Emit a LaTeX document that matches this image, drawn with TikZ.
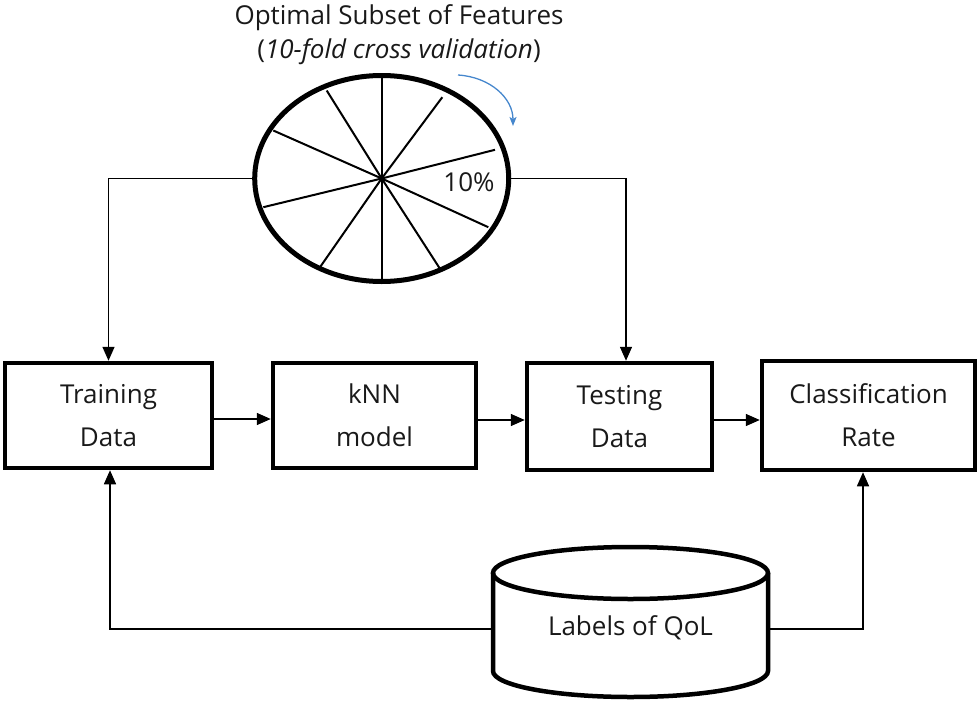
\documentclass[tikz,border=0pt]{standalone}
\usepackage{fontspec}
\setmainfont{Open Sans}
\usetikzlibrary{arrows.meta,shapes.geometric,calc}
\definecolor{arrblue}{RGB}{70,135,205}
\definecolor{txt}{RGB}{25,25,25}
\begin{document}
\begin{tikzpicture}[x=1pt,y=-1pt,
  box/.style={draw,line width=4.5pt,rectangle,minimum height=105pt,inner sep=0pt,align=center,text=txt,font=\fontsize{26}{43}\selectfont},
  conn/.style={line width=1.5pt,-{Triangle[length=14pt,width=12pt]}},
  spoke/.style={line width=2pt},
  lab/.style={font=\fontsize{26}{34}\selectfont,align=center,text=txt}]
\useasboundingbox (0,0) rectangle (980,704);
% title
\node[lab] (title) at (399,35) {Optimal Subset of Features\\(\textit{10-fold cross validation})};
% ellipse with spokes
\coordinate (c) at (381.7,178.5);
\foreach \p in {(0,-101),(-55,-88),(-108.4,-48),(-118.4,28.7),(-61.7,88.7),(0,103),(58.3,90.3),(106.6,48.7),(113.3,-28.7),(60.6,-81.3)}
  \draw[spoke] (c) -- ++\p;
\node[draw,ellipse,line width=5pt,minimum width=254pt,minimum height=206pt,inner sep=0pt] (opt) at (c) {};
\node[font=\fontsize{26}{28}\selectfont,text=txt] (pct) at (469,182) {10\%};
% blue arrow
\draw[arrblue,line width=1.3pt,-{Stealth[length=9pt,width=7pt,inset=2pt]}] (458,75) .. controls (490,77) and (513,98) .. (513,126);
% boxes
\node[box,minimum width=207pt] (train) at (108.5,415.5) {Training\\Data};
\node[box,minimum width=203pt] (knn) at (374.5,415.5) {kNN\\model};
\node[box,minimum width=185pt,minimum height=107pt] (test) at (619.5,416.5) {Testing\\Data};
\node[box,minimum width=213pt,minimum height=109pt] (cls) at (868.5,415.5) {Classification\\Rate};
% cylinder
\draw[line width=4.5pt] (493,573) -- (493,671) arc[start angle=180,end angle=360,x radius=137.5,y radius=-26] -- (768,573);
\draw[line width=4.5pt] (630.5,573) ellipse[x radius=137.5,y radius=26];
\node[font=\fontsize{26}{28}\selectfont,text=txt] (qol) at (630.5,628) {Labels of QoL};
\coordinate (qolL) at (493,629);
\coordinate (qolR) at (768,629);
% connectors
\draw[conn] (opt.west) -| (train.north);
\draw[conn] (opt.east) -| ([xshift=6.5pt]test.north);
\draw[conn] (train.east |- 0,419) -- (knn.west |- 0,419);
\draw[conn] (knn.east |- 0,420) -- (test.west |- 0,420);
\draw[conn] (test.east |- 0,420) -- (cls.west |- 0,420);
\draw[conn] (qolL) -| ([xshift=1.5pt]train.south);
\draw[conn] (qolR) -| ([xshift=-5.5pt]cls.south);
\end{tikzpicture}
\end{document}
